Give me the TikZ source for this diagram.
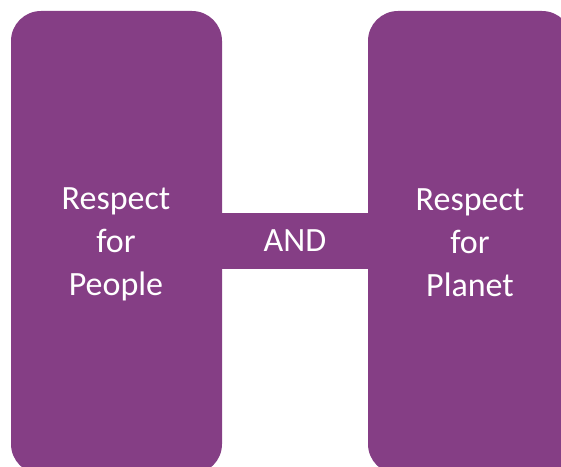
\documentclass[tikz,border=0pt]{standalone}
\usepackage{fontspec}
\setmainfont{Carlito}
\usepackage{tikz}
\usetikzlibrary{calc}
\definecolor{hpurple}{RGB}{133,62,133}

\begin{document}
\begin{tikzpicture}[x=1pt, y=1pt,
    block/.style={fill=hpurple, rounded corners=30pt, inner sep=0pt, text=white, align=center,
                  font=\fontsize{34}{43}\selectfont},
    joinbar/.style={fill=hpurple, inner sep=0pt, text=white, font=\fontsize{34}{43}\selectfont}]
        \useasboundingbox (0,0) rectangle (561,466);
        \clip (0,0) rectangle (561,466);

        % the bar that joins both sides
        \node[joinbar, minimum width=150, minimum height=56] (AND) at (295,225) {AND};

        % the two sides of the H
        \node[block, minimum width=211, minimum height=463] (people) at (116.5,223.5) {};
        \node[block, minimum width=204, minimum height=463] (planet) at (470,223.5) {};
        \node[block, fill=none] (peopletxt) at (116,222) {Respect\\for\\People};
        \node[block, fill=none] (planettxt) at (470,223) {Respect\\for\\Planet};
\end{tikzpicture}
\end{document}
